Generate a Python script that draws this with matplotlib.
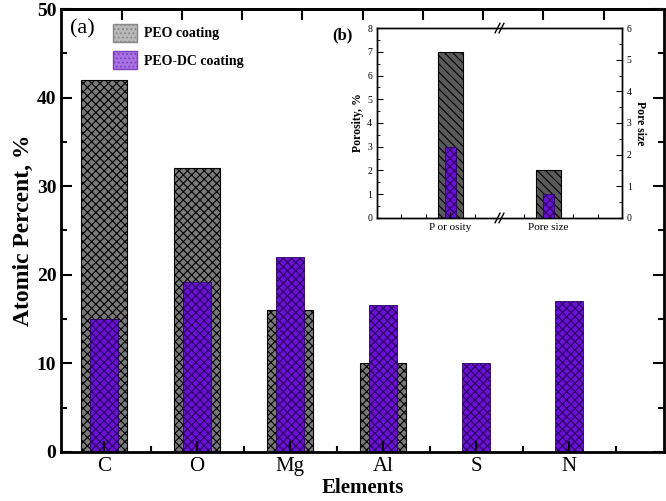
import matplotlib
matplotlib.use("Agg")
import matplotlib.pyplot as plt
from matplotlib.patches import Patch
import numpy as np

elements = ["C", "O", "Mg", "Al", "S", "N"]
peo = [42, 32, 16, 10, 0, 0]
peo_dc = [15, 19.2, 22, 16.6, 10, 17]

inset_cats = ["P or osity", "Pore size"]
porosity = [7, 3]          # PEO, PEO-DC (left axis, %)
pore_size = [1.5, 0.75]    # PEO, PEO-DC (right axis)

plt.rcParams['font.family'] = ['Liberation Serif', 'DejaVu Serif']
plt.rcParams['hatch.linewidth'] = 0.8

GRAY = '#7a7a7a'
PURPLE = '#6a12d4'

fig = plt.figure(figsize=(6.66, 5.01), dpi=100)
ax = fig.add_axes([0.092, 0.098, 0.905, 0.884])

x = np.arange(len(elements))
ax.bar(x, peo, width=0.5, color=GRAY, edgecolor='black', hatch='xxxx', linewidth=0.8)
ax.bar(x, peo_dc, width=0.3, color=PURPLE, edgecolor='#2a0060', hatch='xxxx', linewidth=0.6)

ax.set_xlim(-0.46, 6.02)
ax.set_ylim(0, 50)
ax.set_xticks(x)
ax.set_xticklabels(elements, fontsize=15)
ax.set_xticks(x + 0.5, minor=True)
ax.set_yticks([0, 10, 20, 30, 40, 50])
ax.set_yticks([5, 15, 25, 35, 45], minor=True)
for lab in ax.get_yticklabels():
    lab.set_fontweight('bold')
    lab.set_fontsize(14)
ax.tick_params(axis='both', which='major', direction='in', length=8, width=1.5)
ax.tick_params(axis='both', which='minor', direction='in', length=4, width=1.5)
ax.tick_params(axis='y', which='both', right=True, labelright=False)
ax.tick_params(axis='x', pad=4)
for s in ax.spines.values():
    s.set_linewidth(2)

# top ticks
sec = ax.secondary_xaxis('top')
sec.set_xticks(np.linspace(-0.46, 6.02, 11)[1:-1])
sec.tick_params(direction='in', length=8, width=1.5, labeltop=False)
sec.spines['top'].set_linewidth(2)

ax.set_ylabel('Atomic Percent, %', fontsize=17, fontweight='bold', labelpad=2)
ax.set_xlabel('Elements', fontsize=15, fontweight='bold', labelpad=1)
ax.text(0.015, 0.955, '(a)', transform=ax.transAxes, fontsize=16, va='center')

handles = [Patch(facecolor='#b8b8b8', edgecolor='#888888', hatch='....', label='PEO coating'),
           Patch(facecolor='#a872e0', edgecolor='#7a40c0', hatch='....', label='PEO-DC coating')]
ax.legend(handles=handles, loc='upper left', bbox_to_anchor=(0.065, 0.995), frameon=False,
          prop={'weight': 'bold', 'size': 10}, handlelength=1.7, handleheight=1.6,
          labelspacing=0.7, handletextpad=0.5)

# inset
ins = fig.add_axes([0.566, 0.565, 0.368, 0.379])
ix = np.array([0.3, 0.7])
ins.bar(ix[0], porosity[0], width=0.1, color='#5a5a5a', edgecolor='black', hatch='\\\\\\\\', linewidth=0.8)
ins.bar(ix[0], porosity[1], width=0.045, color=PURPLE, edgecolor='#2a0060', hatch='xxxx', linewidth=0.6)
ins.set_xlim(0, 1)
ins.set_ylim(0, 8)
ins.set_yticks(range(0, 9))
ins.set_xticks(ix)
ins.set_xticklabels(inset_cats, fontsize=8)
ins.set_xticks([0.1, 0.2, 0.4, 0.6, 0.8, 0.9], minor=True)
ins.tick_params(axis='both', which='major', direction='in', length=4, width=0.8, labelsize=7)
ins.tick_params(axis='x', which='major', labelsize=8)
ins.tick_params(axis='x', which='minor', direction='in', length=3, width=0.8)
ins.tick_params(axis='y', which='minor', direction='in', length=2)
ins.set_yticks(np.arange(0.5, 8, 1), minor=True)
ins.set_ylabel('Porosity, %', fontsize=8.5, fontweight='bold', labelpad=2)

ins2 = ins.twinx()
ins2.bar(ix[1], pore_size[0], width=0.1, color='#5a5a5a', edgecolor='black', hatch='\\\\\\\\', linewidth=0.8)
ins2.bar(ix[1], pore_size[1], width=0.045, color=PURPLE, edgecolor='#2a0060', hatch='xxxx', linewidth=0.6)
ins2.set_ylim(0, 6)
ins2.set_yticks(range(0, 7))
ins2.set_yticks(np.arange(0.5, 6, 1), minor=True)
ins2.tick_params(axis='y', which='major', direction='in', length=4, width=0.8, labelsize=7)
ins2.tick_params(axis='y', which='minor', direction='in', length=2)
ins2.set_ylabel('Pore size', fontsize=8.5, fontweight='bold', rotation=270, labelpad=10)
for a in (ins, ins2):
    for s in a.spines.values():
        s.set_linewidth(1.0)

# axis break marks
for yv in (0, 1):
    for dx in (-0.008, 0.008):
        ins.plot([0.5 + dx - 0.01, 0.5 + dx + 0.01], [yv - 0.025, yv + 0.025],
                 transform=ins.transAxes, color='black', lw=1.0, clip_on=False)
ins.text(-0.1, 0.96, '(b)', transform=ins.transAxes, fontsize=12, fontweight='bold', ha='right', va='center')

fig.savefig('out.png', dpi=100)
